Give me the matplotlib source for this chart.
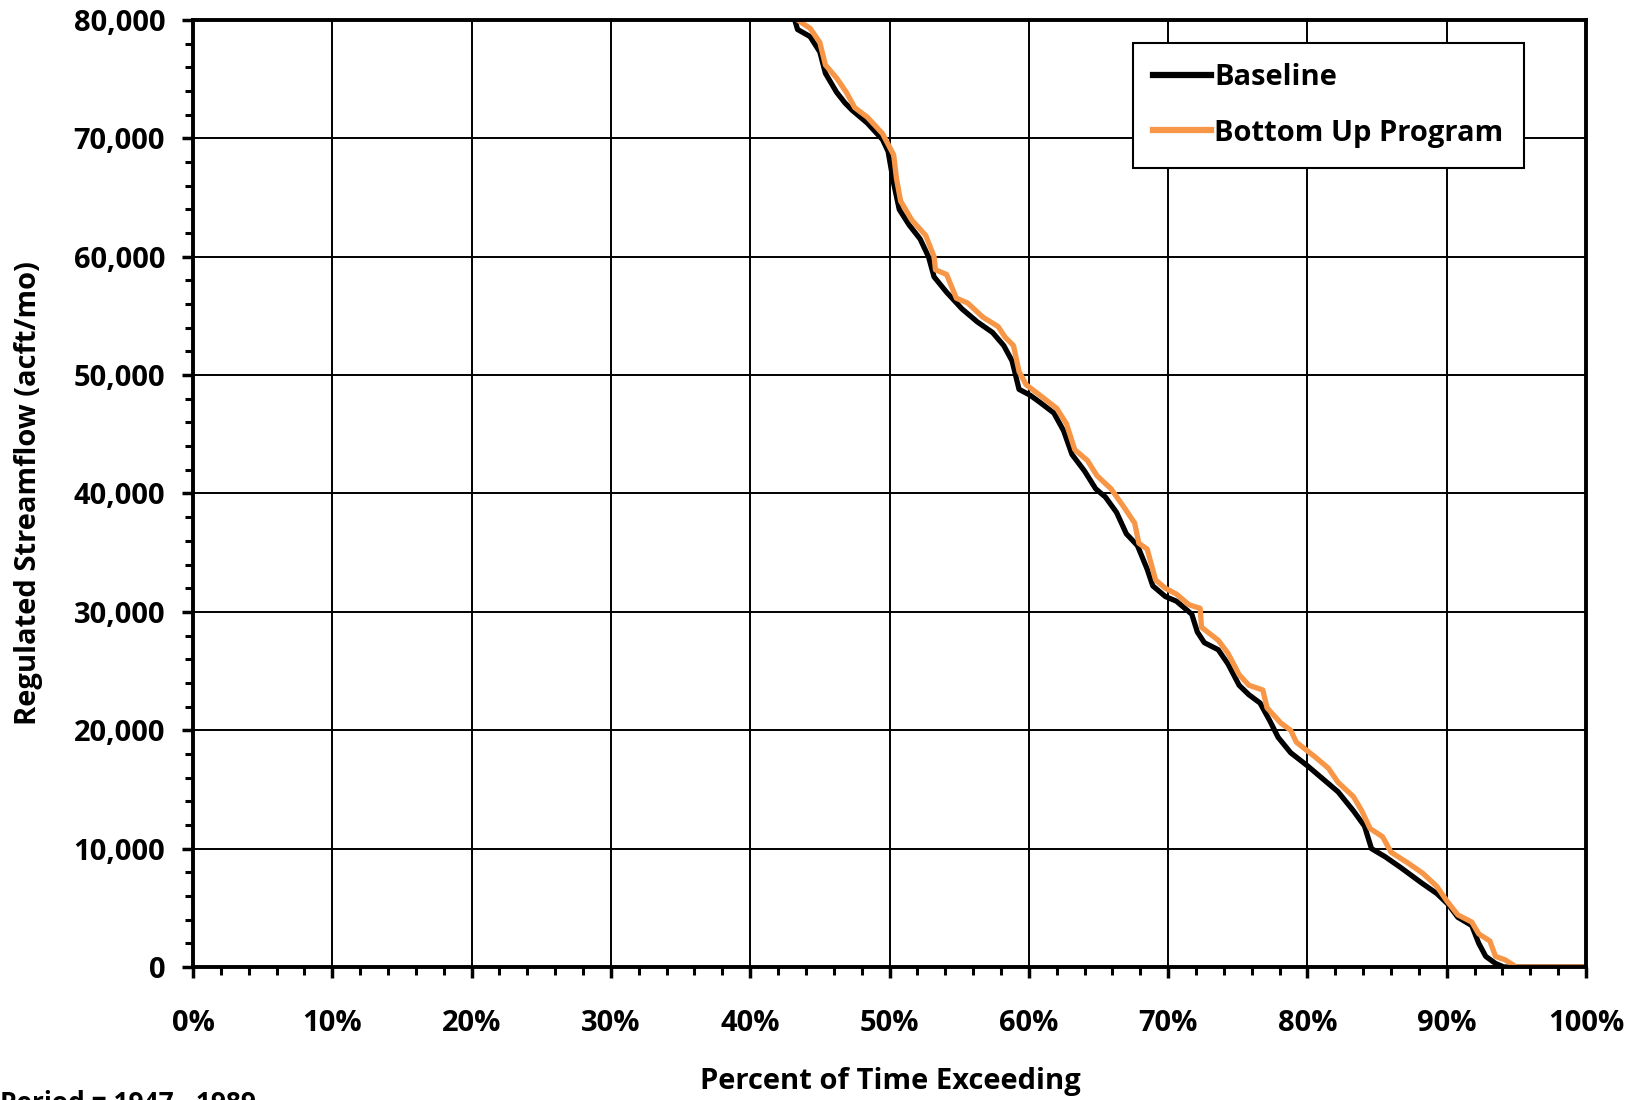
import numpy as np
import matplotlib
matplotlib.use("Agg")
import matplotlib.pyplot as plt
from matplotlib.ticker import MultipleLocator, FuncFormatter

plt.rcParams['font.family'] = ['Open Sans', 'DejaVu Sans']
plt.rcParams['font.weight'] = 'bold'

# exceedance curves (percent of time, acft/mo)
base_pct = [43.2, 43.4, 44.3, 45.0, 45.4, 46.2, 46.8, 47.3, 48.4, 49.5, 49.9, 50.3, 50.7,
            51.4, 52.2, 52.8, 53.2, 54.1, 55.2, 56.3, 57.4, 58.2, 58.8, 59.3, 60.1, 60.8,
            61.8, 62.5, 63.1, 64.0, 64.8, 65.5, 66.3, 67.0, 67.8, 68.5, 68.9, 69.8, 70.6,
            71.7, 72.1, 72.6, 73.6, 74.3, 75.1, 75.8, 76.6, 77.3, 77.9, 78.8, 80.0, 81.1,
            82.2, 83.3, 84.1, 84.6, 85.6, 86.7, 88.2, 89.3, 90.1, 90.8, 91.8, 92.3, 92.8,
            93.5, 94.1, 100.0]
base_flow = [80.0, 79.2, 78.6, 77.3, 75.5, 73.9, 73.0, 72.4, 71.3, 69.9, 68.9, 66.2, 64.0,
             62.7, 61.5, 60.0, 58.3, 57.0, 55.6, 54.5, 53.6, 52.5, 51.2, 48.8, 48.3, 47.7,
             46.8, 45.3, 43.3, 41.9, 40.4, 39.7, 38.4, 36.6, 35.6, 33.6, 32.2, 31.3, 30.9,
             29.8, 28.3, 27.4, 26.8, 25.6, 23.8, 23.0, 22.3, 20.8, 19.4, 18.1, 17.0, 15.9,
             14.8, 13.2, 11.9, 10.0, 9.3, 8.4, 7.1, 6.2, 5.3, 4.2, 3.5, 2.0, 0.9,
             0.3, 0.0, 0.0]

bu_pct = [43.4, 44.3, 45.0, 45.4, 46.2, 46.9, 47.5, 48.4, 49.5, 50.3, 50.5, 50.8, 51.6,
          52.6, 53.2, 53.3, 54.1, 54.8, 55.6, 56.7, 57.8, 58.3, 58.9, 59.3, 59.8, 60.8,
          62.0, 62.7, 63.3, 64.2, 64.9, 65.9, 66.8, 67.6, 67.9, 68.5, 69.1, 69.8, 70.6,
          71.5, 72.3, 72.4, 73.6, 74.3, 75.1, 75.8, 76.8, 77.1, 78.1, 78.8, 79.2, 80.6,
          81.5, 82.2, 83.3, 83.9, 84.5, 85.4, 86.0, 87.2, 88.3, 89.3, 90.0, 90.8, 91.8,
          92.3, 93.1, 93.5, 94.2, 95.0, 100.0]
bu_flow = [80.0, 79.3, 78.1, 76.2, 75.1, 73.9, 72.6, 71.8, 70.4, 68.6, 66.6, 64.7, 63.1,
           61.8, 60.0, 58.9, 58.5, 56.5, 56.1, 54.9, 54.1, 53.2, 52.5, 50.3, 49.2, 48.3,
           47.2, 45.9, 43.7, 42.8, 41.5, 40.4, 38.9, 37.5, 35.8, 35.3, 32.7, 32.0, 31.5,
           30.6, 30.3, 28.7, 27.6, 26.5, 24.7, 23.8, 23.4, 21.9, 20.6, 20.0, 19.0, 17.7,
           16.8, 15.6, 14.4, 13.2, 11.7, 11.0, 9.7, 8.8, 7.9, 6.8, 5.6, 4.4, 3.8,
           2.8, 2.2, 0.9, 0.6, 0.0, 0.0]

fig = plt.figure(figsize=(16.39, 11), dpi=100)
ax = fig.add_axes([193/1639, 1 - 967/1100, 1393/1639, 947/1100])

ax.plot(base_pct, np.array(base_flow) * 1000, color='black', lw=3.8, label='Baseline',
        solid_joinstyle='round', zorder=3)
ax.plot(bu_pct, np.array(bu_flow) * 1000, color='#F79646', lw=3.8, label='Bottom Up Program',
        solid_joinstyle='round', zorder=4)

ax.set_xlim(0, 100)
ax.set_ylim(0, 80000)
ax.xaxis.set_major_locator(MultipleLocator(10))
ax.xaxis.set_minor_locator(MultipleLocator(2))
ax.yaxis.set_major_locator(MultipleLocator(10000))
ax.yaxis.set_minor_locator(MultipleLocator(2000))
ax.xaxis.set_major_formatter(FuncFormatter(lambda v, p: f"{v:.0f}%"))
ax.yaxis.set_major_formatter(FuncFormatter(lambda v, p: f"{v:,.0f}"))

ax.grid(True, which='major', color='black', lw=1.4)
for s in ax.spines.values():
    s.set_linewidth(2.8)
    s.set_zorder(5)

ax.tick_params(axis='both', which='major', direction='out', length=8, width=2.5,
               labelsize=21, colors='black')
ax.tick_params(axis='both', which='minor', direction='out', length=6, width=2.2)
ax.tick_params(axis='x', which='major', pad=22)
ax.tick_params(axis='y', which='major', pad=12)
for lab in ax.get_xticklabels() + ax.get_yticklabels():
    lab.set_fontweight('bold')

leg = ax.legend(loc='upper right', bbox_to_anchor=(0.9555, 0.9757), borderaxespad=0,
                fancybox=False, edgecolor='black', framealpha=1, handlelength=2.0,
                handletextpad=0.1, borderpad=0.7, labelspacing=0.9,
                prop={'size': 21, 'weight': 'bold'})
leg.get_frame().set_linewidth(1.5)
leg.set_zorder(6)
for h in leg.get_lines():
    h.set_linewidth(4.5)

fig.text(29/1639, 1 - 493/1100, 'Regulated Streamflow (acft/mo)', rotation=90,
         ha='center', va='center', fontsize=21, fontweight='bold')
fig.text(890/1639, 1 - 1082/1100, 'Percent of Time Exceeding',
         ha='center', va='center', fontsize=21, fontweight='bold')
fig.text(0.0, 1 - 1090/1100, 'Period = 1947 - 1989',
         ha='left', va='top', fontsize=19, fontweight='bold')

fig.savefig('out.png', dpi=100)
